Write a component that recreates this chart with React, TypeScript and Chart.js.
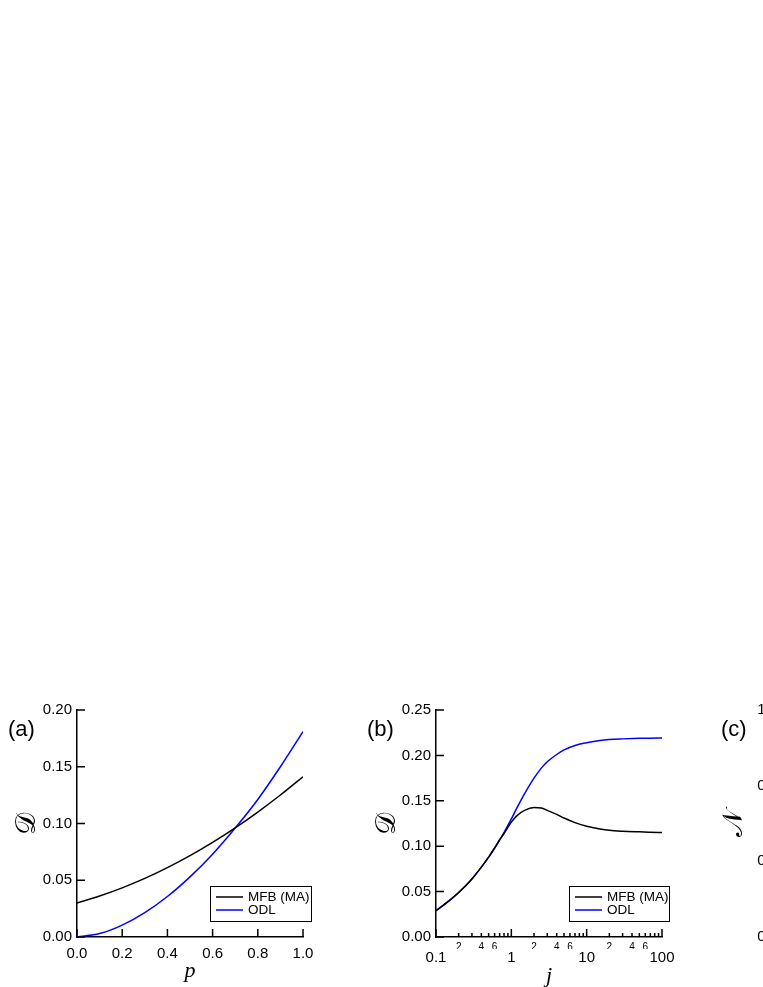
import React, { useEffect, useRef } from 'react';
import { Chart, registerables } from 'chart.js';

Chart.register(...registerables);

const SANS = "'Liberation Sans', Arial, Helvetica, sans-serif";
const SERIF = "'Liberation Serif', 'DejaVu Serif', serif";
const MATH = "'DejaVu Sans', 'DejaVu Serif', 'Noto Sans', serif";

// ---------- shared series info ----------
const seriesLabels = ['MFB (MA)', 'ODL'];
const seriesColors = ['#000000', '#0000ff'];

// ---------- panel (a) ----------
const pValues = [0, 0.1, 0.2, 0.3, 0.4, 0.5, 0.6, 0.7, 0.8, 0.9, 1.0];
const mfbA = [0.030, 0.0361, 0.0433, 0.0516, 0.0611, 0.0717, 0.0834, 0.0962, 0.1101, 0.1251, 0.1412];
const odlA = [0.000, 0.003, 0.0105, 0.0215, 0.0357, 0.053, 0.073, 0.096, 0.1212, 0.150, 0.181];
const xTicksA = [0, 0.2, 0.4, 0.6, 0.8, 1.0];
const yTicksA = [0, 0.05, 0.10, 0.15, 0.20];

// ---------- panel (b) ----------
const jValues = [0.1, 0.15, 0.2, 0.3, 0.4, 0.5, 0.6, 0.7, 0.8, 1.0, 1.2, 1.5, 2, 2.5, 3, 4, 5, 7, 10, 15, 20, 30, 50, 70, 100];
const mfbB = [0.029, 0.040, 0.049, 0.064, 0.077, 0.088, 0.098, 0.107, 0.114, 0.1265, 0.134, 0.1395, 0.1425, 0.142, 0.1395, 0.135, 0.131, 0.126, 0.122, 0.119, 0.1175, 0.1165, 0.1158, 0.1154, 0.115];
const odlB = [0.029, 0.040, 0.049, 0.064, 0.077, 0.088, 0.098, 0.107, 0.115, 0.130, 0.143, 0.158, 0.175, 0.186, 0.193, 0.201, 0.206, 0.211, 0.214, 0.2165, 0.2175, 0.2182, 0.2188, 0.219, 0.2192];
const xMajorB = [0.1, 1, 10, 100];
const xMinorB = [0.2, 0.3, 0.4, 0.5, 0.6, 0.7, 0.8, 0.9, 2, 3, 4, 5, 6, 7, 8, 9, 20, 30, 40, 50, 60, 70, 80, 90];
const xMinorLabelledB = [2, 4, 6];
const yTicksB = [0, 0.05, 0.10, 0.15, 0.20, 0.25];

// ---------- panel (c) ----------
const yTicksC = [0.4, 0.6, 0.8, 1.0];
const xTicksC = [0, 0.5, 1.0];

function mantissa(v: number) {
  const e = Math.floor(Math.log10(v) + 1e-9);
  return Math.round(v / Math.pow(10, e));
}

function tickPlugin(specs: { id: string; values: number[]; len: (v: number) => number }[]) {
  return {
    id: 'inwardTicks',
    afterDraw(chart: any) {
      const ctx = chart.ctx;
      const a = chart.chartArea;
      ctx.save();
      ctx.strokeStyle = '#000';
      ctx.lineWidth = 1.5;
      ctx.beginPath();
      for (const s of specs) {
        const scale = chart.scales[s.id];
        for (const v of s.values) {
          const px = scale.getPixelForValue(v);
          const len = s.len(v);
          if (scale.isHorizontal()) {
            ctx.moveTo(px, a.bottom);
            ctx.lineTo(px, a.bottom - len);
          } else {
            ctx.moveTo(a.left, px);
            ctx.lineTo(a.left + len, px);
          }
        }
      }
      ctx.stroke();
      ctx.restore();
    },
  };
}

function legendPlugin(dx: number, dy: number, w: number) {
  return {
    id: 'boxLegend',
    afterDraw(chart: any) {
      const ctx = chart.ctx;
      const a = chart.chartArea;
      const h = 36;
      const right = a.right + dx;
      const bottom = a.bottom - dy;
      const left = right - w;
      const top = bottom - h;
      ctx.save();
      ctx.fillStyle = '#fff';
      ctx.fillRect(left, top, w, h);
      ctx.strokeStyle = '#000';
      ctx.lineWidth = 1;
      ctx.strokeRect(left + 0.5, top + 0.5, w - 1, h - 1);
      ctx.font = `13.5px ${SANS}`;
      ctx.textBaseline = 'middle';
      ctx.textAlign = 'left';
      chart.data.datasets.forEach((ds: any, i: number) => {
        const y = top + 11 + i * 13;
        ctx.strokeStyle = ds.borderColor;
        ctx.lineWidth = 1.5;
        ctx.beginPath();
        ctx.moveTo(left + 6, y);
        ctx.lineTo(left + 33, y);
        ctx.stroke();
        ctx.fillStyle = '#000';
        ctx.fillText(ds.label, left + 38, y);
      });
      ctx.restore();
    },
  };
}

const tickFont = { family: SANS, size: 15 };
const noGrid = { display: false, drawTicks: false };
const axisBorder = { display: true, color: '#000', width: 1.5 };

function makeDatasets(xs: number[], series: number[][]) {
  return series.map((ys, i) => ({
    label: seriesLabels[i],
    data: xs.map((x, k) => ({ x, y: ys[k] })),
    borderColor: seriesColors[i],
    backgroundColor: seriesColors[i],
    borderWidth: 1.5,
    pointRadius: 0,
    fill: false,
    cubicInterpolationMode: 'monotone' as const,
  }));
}

function configA(): any {
  return {
    type: 'line',
    data: { datasets: makeDatasets(pValues, [mfbA, odlA]) },
    options: {
      animation: false,
      responsive: false,
      devicePixelRatio: 1,
      layout: { padding: { left: 0, top: 20, right: 27, bottom: 0 } },
      plugins: { legend: { display: false }, tooltip: { enabled: false } },
      scales: {
        x: {
          type: 'linear',
          min: 0,
          max: 1,
          afterBuildTicks: (s: any) => { s.ticks = xTicksA.map((v) => ({ value: v })); },
          afterFit: (s: any) => { s.height = 50; },
          ticks: { callback: (v: any) => Number(v).toFixed(1), font: tickFont, color: '#000', padding: 8, maxRotation: 0, minRotation: 0, autoSkip: false },
          grid: noGrid,
          border: axisBorder,
          title: { display: true, text: 'p', color: '#000', font: { family: SERIF, size: 22, style: 'italic' }, padding: { top: 0, bottom: 2.5 } },
        },
        y: {
          type: 'linear',
          min: 0,
          max: 0.2,
          afterBuildTicks: (s: any) => { s.ticks = yTicksA.map((v) => ({ value: v })); },
          afterFit: (s: any) => { s.width = 77; },
          ticks: { callback: (v: any) => Number(v).toFixed(2), font: tickFont, color: '#000', padding: 5 },
          grid: noGrid,
          border: axisBorder,
          title: { display: true, text: '𝒟', color: '#000', font: { family: MATH, size: 28 }, padding: { top: 11, bottom: 0 } },
        },
      },
    },
    plugins: [
      tickPlugin([
        { id: 'x', values: xTicksA, len: () => 8 },
        { id: 'y', values: yTicksA, len: () => 8 },
      ]),
      legendPlugin(9, 15, 102),
    ],
  };
}

function configB(): any {
  return {
    type: 'line',
    data: { datasets: makeDatasets(jValues, [mfbB, odlB]) },
    options: {
      animation: false,
      responsive: false,
      devicePixelRatio: 1,
      layout: { padding: { left: 0, top: 20, right: 28, bottom: 0 } },
      plugins: { legend: { display: false }, tooltip: { enabled: false } },
      scales: {
        x: {
          type: 'logarithmic',
          position: 'bottom',
          weight: 0,
          min: 0.1,
          max: 100,
          afterBuildTicks: (s: any) => { s.ticks = xMinorB.map((v) => ({ value: v })); },
          afterFit: (s: any) => { s.height = 12; },
          ticks: {
            callback: (v: any) => (xMinorLabelledB.includes(mantissa(Number(v))) ? String(mantissa(Number(v))) : ''),
            font: { family: SANS, size: 10 },
            color: '#000',
            padding: 4,
            maxRotation: 0,
            minRotation: 0,
            autoSkip: false,
          },
          grid: noGrid,
          border: axisBorder,
        },
        x2: {
          type: 'logarithmic',
          position: 'bottom',
          weight: 1,
          min: 0.1,
          max: 100,
          afterBuildTicks: (s: any) => { s.ticks = xMajorB.map((v) => ({ value: v })); },
          afterFit: (s: any) => { s.height = 38; },
          ticks: { callback: (v: any) => String(v), font: tickFont, color: '#000', padding: 0, maxRotation: 0, minRotation: 0, autoSkip: false },
          grid: noGrid,
          border: { display: false },
          title: { display: true, text: 'j', color: '#000', font: { family: SERIF, size: 22, style: 'italic' }, padding: { top: 0, bottom: -2 } },
        },
        y: {
          type: 'linear',
          min: 0,
          max: 0.25,
          afterBuildTicks: (s: any) => { s.ticks = yTicksB.map((v) => ({ value: v })); },
          afterFit: (s: any) => { s.width = 76; },
          ticks: { callback: (v: any) => Number(v).toFixed(2), font: tickFont, color: '#000', padding: 5 },
          grid: noGrid,
          border: axisBorder,
          title: { display: true, text: '𝒟', color: '#000', font: { family: MATH, size: 28 }, padding: { top: 11, bottom: 0 } },
        },
      },
    },
    plugins: [
      tickPlugin([
        { id: 'x', values: xMajorB, len: () => 8 },
        { id: 'x', values: xMinorB, len: () => 4 },
        { id: 'y', values: yTicksB, len: () => 8 },
      ]),
      legendPlugin(8, 15, 101),
    ],
  };
}

function configC(): any {
  return {
    type: 'line',
    data: { datasets: [] },
    options: {
      animation: false,
      responsive: false,
      devicePixelRatio: 1,
      layout: { padding: { left: 0, top: 20, right: 27, bottom: 0 } },
      plugins: { legend: { display: false }, tooltip: { enabled: false } },
      scales: {
        x: {
          type: 'linear',
          min: 0,
          max: 1,
          afterBuildTicks: (s: any) => { s.ticks = xTicksC.map((v) => ({ value: v })); },
          afterFit: (s: any) => { s.height = 50; },
          ticks: { callback: (v: any) => Number(v).toFixed(1), font: tickFont, color: '#000', padding: 8, maxRotation: 0, minRotation: 0, autoSkip: false },
          grid: noGrid,
          border: axisBorder,
        },
        y: {
          type: 'linear',
          min: 0.4,
          max: 1.0,
          afterBuildTicks: (s: any) => { s.ticks = yTicksC.map((v) => ({ value: v })); },
          afterFit: (s: any) => { s.width = 73; },
          ticks: { callback: (v: any) => Number(v).toFixed(1), font: tickFont, color: '#000', padding: 5 },
          grid: noGrid,
          border: axisBorder,
          title: { display: true, text: '𝒩', color: '#000', font: { family: MATH, size: 28 }, padding: { top: 8, bottom: 0 } },
        },
      },
    },
  };
}

function Panel({ left, top, config }: { left: number; top: number; config: () => any }) {
  const ref = useRef<HTMLCanvasElement | null>(null);
  useEffect(() => {
    if (!ref.current) return;
    const chart = new Chart(ref.current, config());
    return () => chart.destroy();
  }, [config]);
  return (
    <canvas
      ref={ref}
      width={330}
      height={297}
      style={{ position: 'absolute', left, top, width: 330, height: 297 }}
    />
  );
}

const labelStyle = (left: number): React.CSSProperties => ({
  position: 'absolute',
  left,
  top: 718,
  fontFamily: SANS,
  fontSize: 22,
  lineHeight: '22px',
  color: '#000',
  whiteSpace: 'nowrap',
});

export default function App() {
  return (
    <div
      style={{
        position: 'fixed',
        left: 0,
        top: 0,
        width: 763,
        height: 987,
        overflow: 'hidden',
        background: '#fff',
      }}
    >
      <Panel left={0} top={690} config={configA} />
      <Panel left={360} top={690} config={configB} />
      <Panel left={710} top={690} config={configC} />
      <div style={labelStyle(8)}>(a)</div>
      <div style={labelStyle(367)}>(b)</div>
      <div style={labelStyle(721)}>(c)</div>
    </div>
  );
}
